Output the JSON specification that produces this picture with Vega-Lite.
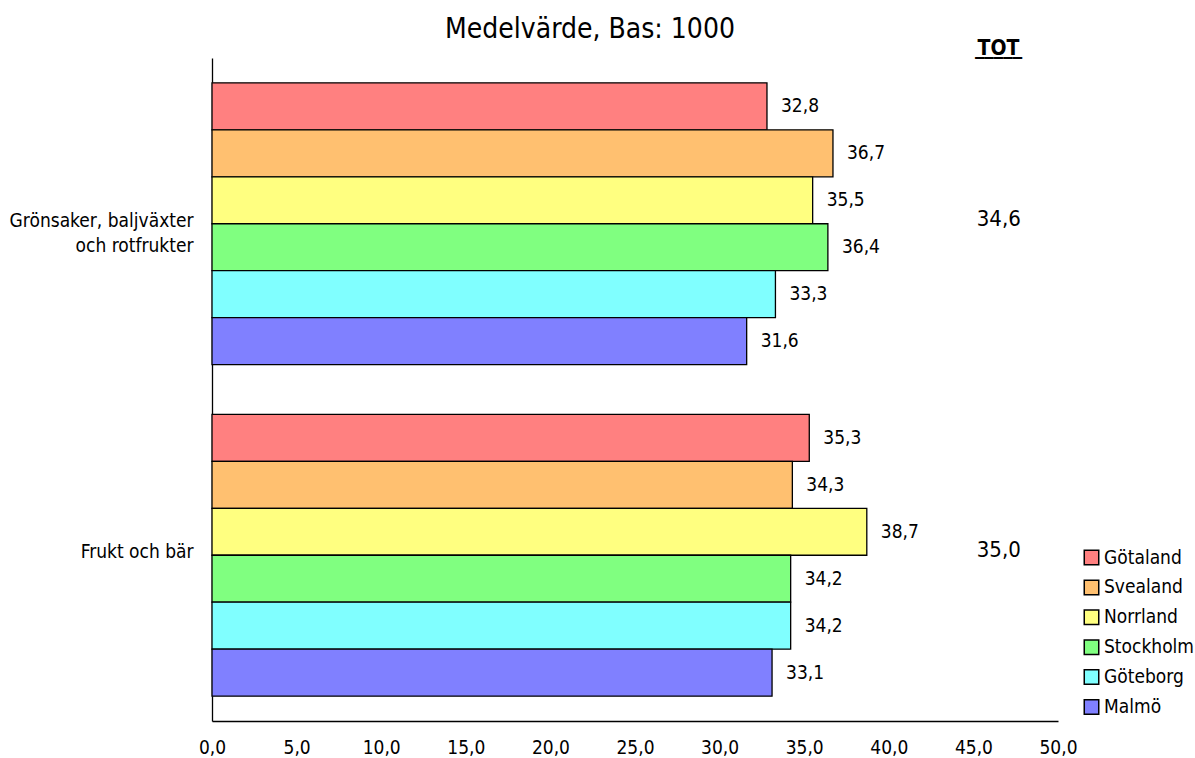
{
  "$schema": "https://vega.github.io/schema/vega-lite/v6.json",
  "width": 846,
  "height": 663,
  "autosize": {"type": "none"},
  "padding": {"left": 212, "top": 58, "right": 137, "bottom": 37},
  "background": "white",
  "title": {"text": "Medelvärde, Bas: 1000", "fontSize": 28, "font": "DejaVu Sans Condensed", "fontWeight": "normal", "color": "#000", "anchor": "middle", "dx": -45, "offset": -7},
  "config": {
    "locale": {"number": {"decimal": ",", "thousands": " ", "grouping": [3], "currency": ["", " kr"]}},
    "view": {"stroke": null},
    "font": "DejaVu Sans Condensed"
  },
  "datasets": {
    "bars": [
      {"kategori": "Grönsaker, baljväxter|och rotfrukter", "region": "Götaland", "varde": 32.8},
      {"kategori": "Grönsaker, baljväxter|och rotfrukter", "region": "Svealand", "varde": 36.7},
      {"kategori": "Grönsaker, baljväxter|och rotfrukter", "region": "Norrland", "varde": 35.5},
      {"kategori": "Grönsaker, baljväxter|och rotfrukter", "region": "Stockholm", "varde": 36.4},
      {"kategori": "Grönsaker, baljväxter|och rotfrukter", "region": "Göteborg", "varde": 33.3},
      {"kategori": "Grönsaker, baljväxter|och rotfrukter", "region": "Malmö", "varde": 31.6},
      {"kategori": "Frukt och bär", "region": "Götaland", "varde": 35.3},
      {"kategori": "Frukt och bär", "region": "Svealand", "varde": 34.3},
      {"kategori": "Frukt och bär", "region": "Norrland", "varde": 38.7},
      {"kategori": "Frukt och bär", "region": "Stockholm", "varde": 34.2},
      {"kategori": "Frukt och bär", "region": "Göteborg", "varde": 34.2},
      {"kategori": "Frukt och bär", "region": "Malmö", "varde": 33.1}
    ],
    "tot": [
      {"kategori": "Grönsaker, baljväxter|och rotfrukter", "tot": 34.6, "kolumn": 46.5},
      {"kategori": "Frukt och bär", "tot": 35.0, "kolumn": 46.5}
    ]
  },
  "resolve": {"axis": {"y": "independent"}},
  "layer": [
    {
      "data": {"name": "bars"},
      "mark": {"type": "bar", "stroke": "#000", "strokeWidth": 1.3},
      "encoding": {
        "y": {"field": "kategori", "type": "nominal", "sort": null,
          "scale": {"paddingInner": 0.15, "paddingOuter": 0.075},
          "axis": {"title": null, "ticks": false, "domainColor": "#000", "domainWidth": 1.3, "labelFontSize": 19, "labelColor": "#000", "labelPadding": 19, "labelLineHeight": 25, "labelExpr": "split(datum.label, '|')", "labelLimit": 300, "labelOffset": -3}},
        "yOffset": {"field": "region", "type": "nominal", "sort": ["Götaland", "Svealand", "Norrland", "Stockholm", "Göteborg", "Malmö"], "scale": {"paddingInner": 0, "paddingOuter": 0}},
        "x": {"field": "varde", "type": "quantitative",
          "scale": {"domain": [0, 50], "nice": false},
          "axis": {"title": null, "values": [0, 5, 10, 15, 20, 25, 30, 35, 40, 45, 50], "format": ".1f", "grid": false, "ticks": false, "domainColor": "#000", "domainWidth": 1.3, "labelFontSize": 19, "labelColor": "#000", "labelPadding": 17, "labelFlush": false}},
        "color": {"field": "region", "type": "nominal",
          "scale": {"domain": ["Götaland", "Svealand", "Norrland", "Stockholm", "Göteborg", "Malmö"], "range": ["#FF8080", "#FFC070", "#FFFF80", "#80FF80", "#80FFFF", "#8080FF"]},
          "legend": {"title": null, "orient": "none", "legendX": 870, "legendY": 490, "symbolType": "square", "symbolSize": 210, "symbolStrokeColor": "#000", "symbolStrokeWidth": 1.5, "labelFontSize": 19, "labelColor": "#000", "rowPadding": 8.9, "labelOffset": 3}}
      }
    },
    {
      "data": {"name": "bars"},
      "mark": {"type": "text", "align": "left", "dx": 14, "fontSize": 19, "color": "#000"},
      "encoding": {
        "y": {"field": "kategori", "type": "nominal", "sort": null, "axis": null},
        "yOffset": {"field": "region", "type": "nominal", "sort": ["Götaland", "Svealand", "Norrland", "Stockholm", "Göteborg", "Malmö"]},
        "x": {"field": "varde", "type": "quantitative"},
        "text": {"field": "varde", "type": "quantitative", "format": ".1f"}
      }
    },
    {
      "data": {"name": "tot"},
      "mark": {"type": "text", "align": "center", "fontSize": 22, "color": "#000", "dy": -5},
      "encoding": {
        "y": {"field": "kategori", "type": "nominal", "sort": null,
          "axis": {"orient": "right", "labels": false, "ticks": false, "domain": false, "title": ["TOT", "‾‾‾‾‾"], "titleLineHeight": 18, "titleAngle": 0, "titleFontSize": 21, "titleFontWeight": "bold", "titleColor": "#000", "titleX": -60, "titleY": -4, "titleAlign": "center", "titleBaseline": "alphabetic"}},
        "x": {"field": "kolumn", "type": "quantitative"},
        "text": {"field": "tot", "type": "quantitative", "format": ".1f"}
      }
    }
  ]
}
